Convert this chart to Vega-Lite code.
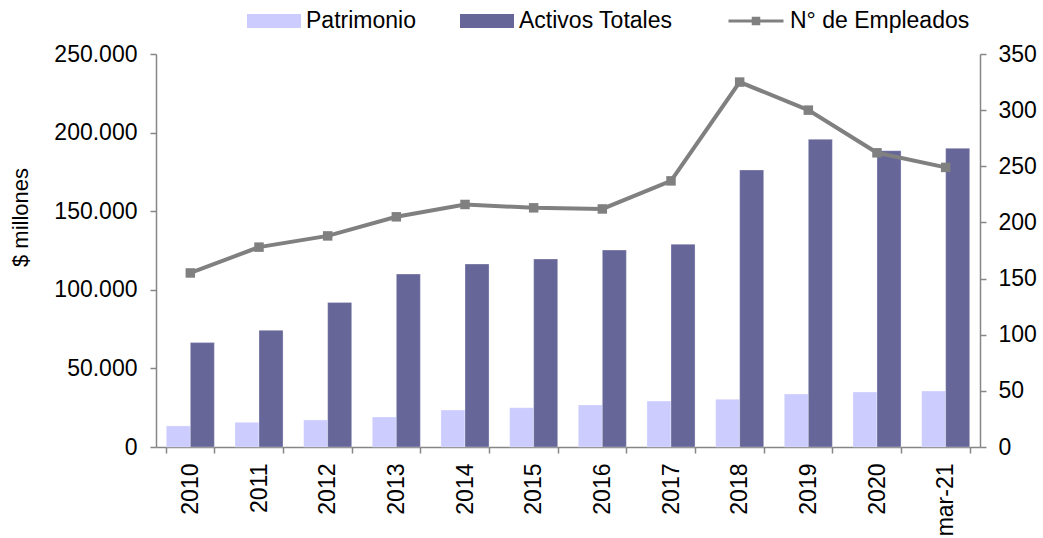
{
  "$schema": "https://vega.github.io/schema/vega-lite/v6.json",
  "width": 824,
  "height": 393,
  "autosize": "none",
  "padding": {"left": 156, "top": 54, "right": 63, "bottom": 91},
  "background": "white",
  "config": {
    "font": "Liberation Sans",
    "view": {"stroke": null},
    "axis": {
      "domainColor": "#868686",
      "domainWidth": 1.5,
      "tickColor": "#868686",
      "tickWidth": 1.5,
      "labelColor": "#000000",
      "labelFont": "Liberation Sans",
      "titleFont": "Liberation Sans",
      "titleColor": "#000000",
      "titleFontWeight": "normal",
      "grid": false
    },
    "legend": {"labelFont": "Liberation Sans", "labelColor": "#000000"}
  },
  "datasets": {
    "barras": [
      {"anio": "2010", "serie": "Patrimonio", "valor": 13400},
      {"anio": "2010", "serie": "Activos Totales", "valor": 66400},
      {"anio": "2011", "serie": "Patrimonio", "valor": 15700},
      {"anio": "2011", "serie": "Activos Totales", "valor": 74200},
      {"anio": "2012", "serie": "Patrimonio", "valor": 17200},
      {"anio": "2012", "serie": "Activos Totales", "valor": 92000},
      {"anio": "2013", "serie": "Patrimonio", "valor": 19100},
      {"anio": "2013", "serie": "Activos Totales", "valor": 110000},
      {"anio": "2014", "serie": "Patrimonio", "valor": 23500},
      {"anio": "2014", "serie": "Activos Totales", "valor": 116400},
      {"anio": "2015", "serie": "Patrimonio", "valor": 25000},
      {"anio": "2015", "serie": "Activos Totales", "valor": 119600},
      {"anio": "2016", "serie": "Patrimonio", "valor": 26700},
      {"anio": "2016", "serie": "Activos Totales", "valor": 125300},
      {"anio": "2017", "serie": "Patrimonio", "valor": 29200},
      {"anio": "2017", "serie": "Activos Totales", "valor": 129000},
      {"anio": "2018", "serie": "Patrimonio", "valor": 30300},
      {"anio": "2018", "serie": "Activos Totales", "valor": 176200},
      {"anio": "2019", "serie": "Patrimonio", "valor": 33700},
      {"anio": "2019", "serie": "Activos Totales", "valor": 195700},
      {"anio": "2020", "serie": "Patrimonio", "valor": 35000},
      {"anio": "2020", "serie": "Activos Totales", "valor": 188500},
      {"anio": "mar-21", "serie": "Patrimonio", "valor": 35600},
      {"anio": "mar-21", "serie": "Activos Totales", "valor": 190000}
    ],
    "empleados": [
      {"anio": "2010", "serie": "N° de Empleados", "empleados": 155},
      {"anio": "2011", "serie": "N° de Empleados", "empleados": 178},
      {"anio": "2012", "serie": "N° de Empleados", "empleados": 188},
      {"anio": "2013", "serie": "N° de Empleados", "empleados": 205},
      {"anio": "2014", "serie": "N° de Empleados", "empleados": 216},
      {"anio": "2015", "serie": "N° de Empleados", "empleados": 213},
      {"anio": "2016", "serie": "N° de Empleados", "empleados": 212},
      {"anio": "2017", "serie": "N° de Empleados", "empleados": 237},
      {"anio": "2018", "serie": "N° de Empleados", "empleados": 325},
      {"anio": "2019", "serie": "N° de Empleados", "empleados": 300},
      {"anio": "2020", "serie": "N° de Empleados", "empleados": 262},
      {"anio": "mar-21", "serie": "N° de Empleados", "empleados": 249}
    ]
  },
  "encoding": {
    "x": {
      "field": "anio",
      "type": "nominal",
      "scale": {"domain": ["2010","2011","2012","2013","2014","2015","2016","2017","2018","2019","2020","mar-21"], "paddingInner": 0.3, "paddingOuter": 0.15},
      "axis": {
        "title": null,
        "labelAngle": -90,
        "labelFontSize": 23,
        "labelPadding": 10,
        "tickBand": "extent",
        "tickSize": 6
      }
    }
  },
  "layer": [
    {
      "data": {"name": "barras"},
      "mark": {"type": "bar", "stroke": "white", "strokeWidth": 0.5, "strokeOpacity": 0.6},
      "encoding": {
        "xOffset": {
          "field": "serie",
          "type": "nominal",
          "scale": {"domain": ["Patrimonio", "Activos Totales"], "paddingInner": 0, "paddingOuter": 0}
        },
        "y": {
          "field": "valor",
          "type": "quantitative",
          "scale": {"domain": [0, 250000], "nice": false},
          "axis": {
            "orient": "left",
            "title": "$ millones",
            "titleFontSize": 22,
            "titleAngle": -90,
            "titleAlign": "center",
            "titleBaseline": "middle",
            "titleX": -136,
            "titleY": 163,
            "values": [0, 50000, 100000, 150000, 200000, 250000],
            "labelExpr": "replace(format(datum.value, ','), ',', '.')",
            "labelFontSize": 23,
            "labelPadding": 13,
            "tickSize": 6
          }
        },
        "fill": {
          "field": "serie",
          "type": "nominal",
          "scale": {"domain": ["Patrimonio", "Activos Totales"], "range": ["#CCCCFF", "#666699"]},
          "legend": {
            "title": null,
            "orient": "none",
            "direction": "horizontal",
            "legendX": 91,
            "legendY": -60,
            "symbolType": "M-1,-0.26H1V0.26H-1Z",
            "symbolSize": 2916,
            "symbolStrokeWidth": 0,
            "labelFontSize": 23,
            "labelOffset": 5,
            "labelLimit": 400,
            "columnPadding": 44,
            "padding": 0
          }
        }
      }
    },
    {
      "data": {"name": "empleados"},
      "encoding": {
        "y": {
          "field": "empleados",
          "type": "quantitative",
          "scale": {"domain": [0, 350], "nice": false},
          "axis": {
            "orient": "right",
            "title": null,
            "values": [0, 50, 100, 150, 200, 250, 300, 350],
            "labelFontSize": 23,
            "labelPadding": 12,
            "tickSize": 6
          }
        }
      },
      "layer": [
        {
          "mark": {"type": "line", "strokeWidth": 4},
          "encoding": {
            "stroke": {
              "field": "serie",
              "type": "nominal",
              "scale": {"domain": ["N° de Empleados"], "range": ["#808080"]},
              "legend": {
                "title": null,
                "orient": "none",
                "legendX": 571,
                "legendY": -62,
                "symbolType": "M-1,0H1M-0.1,-0.1H0.1V0.1H-0.1Z",
                "symbolSize": 3025,
                "symbolStrokeWidth": 3,
                "symbolFillColor": "#808080",
                "labelFontSize": 23,
                "labelOffset": 5,
                "labelLimit": 400,
                "padding": 0
              }
            }
          }
        },
        {
          "mark": {"type": "point", "shape": "square", "filled": true, "size": 90, "color": "#808080", "opacity": 1},
          "encoding": {}
        }
      ]
    }
  ],
  "resolve": {"scale": {"y": "independent"}}
}
